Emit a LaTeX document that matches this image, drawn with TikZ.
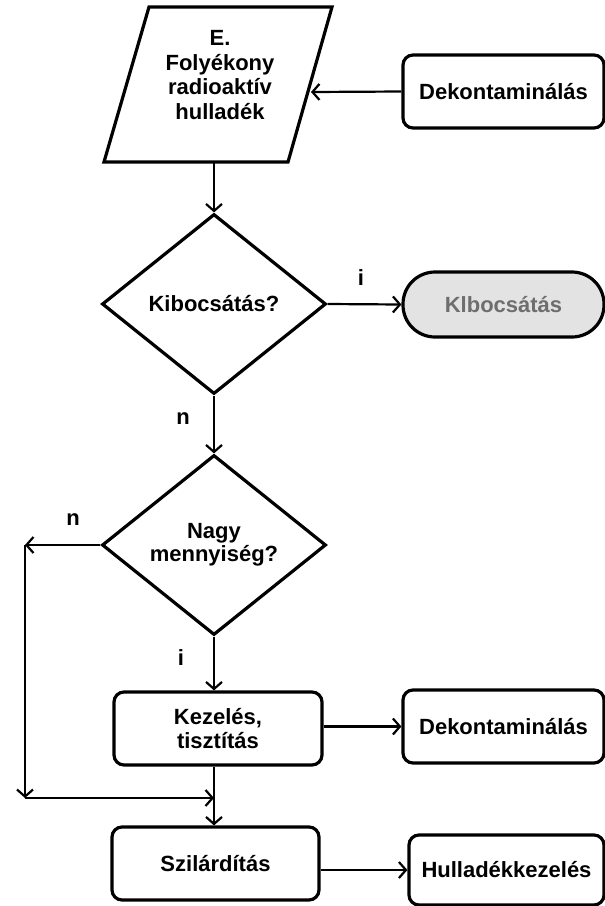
\documentclass[tikz,border=0pt]{standalone}
\usepackage{fontspec}
\setmainfont{Liberation Sans}
\usetikzlibrary{shapes.geometric,arrows.meta}
\definecolor{termfill}{HTML}{E3E3E3}
\definecolor{termtext}{HTML}{6E6E6E}
\begin{document}
\begin{tikzpicture}[x=1pt,y=-1pt,
  lbl/.style={font=\fontsize{22}{24.5}\selectfont\bfseries, inner sep=0pt},
  box/.style={draw, line width=3.2pt, rounded corners=10pt, lbl, align=center},
  dia/.style={draw, diamond, line width=3.2pt, lbl, align=center, minimum width=224pt, minimum height=180pt, inner sep=0pt},
  term/.style={draw, line width=3.2pt, rounded corners=32pt, fill=termfill, text=termtext, lbl},
  arr/.style={line width=2.2pt, -{Straight Barb[length=7pt,width=16pt,line width=2.2pt]}},
  edgelbl/.style={lbl}
]
\useasboundingbox (0,0) rectangle (605,906);
% source parallelogram
\coordinate (pTL) at (149,7);
\coordinate (pTR) at (332,7);
\coordinate (pBR) at (288,162);
\coordinate (pBL) at (104,162);
\draw[line width=3.2pt, line join=miter] (pTL) -- (pTR) -- (pBR) -- (pBL) -- cycle;
\node[lbl, align=center] (src) at (220,75) {E.\\Folyékony\\radioaktív\\hulladék};
\coordinate (srcR) at (311,92);
\coordinate (srcB) at (214,162);
% nodes
\node[box, minimum width=201pt, minimum height=73pt] (dek1) at (503.5,91.5) {Dekontaminálás};
\node[dia] (d1) at (214,304) {\raisebox{-5pt}{Kibocsátás?}};
\node[term, minimum width=201pt, minimum height=65pt] (kib) at (503.5,304.5) {Klbocsátás};
\node[dia] (d2) at (214,545) {\raisebox{6pt}{\begin{tabular}{@{}c@{}}Nagy\\[-2pt]mennyiség?\end{tabular}}};
\node[box, minimum width=208pt, minimum height=73pt] (kez) at (218,728.5) {Kezelés,\\tisztítás};
\node[box, minimum width=201pt, minimum height=73pt] (dek2) at (503.5,726.5) {Dekontaminálás};
\node[box, minimum width=207pt, minimum height=73pt] (szi) at (215.5,863.5) {Szilárdítás};
\node[box, minimum width=195pt, minimum height=70pt] (hul) at (506.5,870) {Hulladékkezelés};
% helper coordinates
\coordinate (L1) at (25,545);
\coordinate (L2) at (25,798);
\coordinate (M) at (214,798);
% connectors
\draw[arr] (dek1.west) -- (srcR);
\draw[arr] (srcB) -- (d1.north);
\draw[arr] (d1.east) -- (kib.west);
\draw[arr] (d1.south) -- (d2.north);
\draw[arr] (d2.west) -- (L1);
\draw[arr] (L1) -- (L2);
\draw[arr] (L2) -- (M);
\draw[arr] (d2.south) -- (kez.north -| d2.south);
\draw[arr] (kez.south -| M) -- (szi.north -| M);
\draw[arr] (kez.east |- dek2.west) -- (dek2.west);
\draw[arr] (szi.east |- hul.west) -- (hul.west);
% edge labels
\node[edgelbl] (li1) at (361,278) {i};
\node[edgelbl] (ln1) at (183,419) {n};
\node[edgelbl] (ln2) at (73,520) {n};
\node[edgelbl] (li2) at (181,658) {i};
\end{tikzpicture}
\end{document}
